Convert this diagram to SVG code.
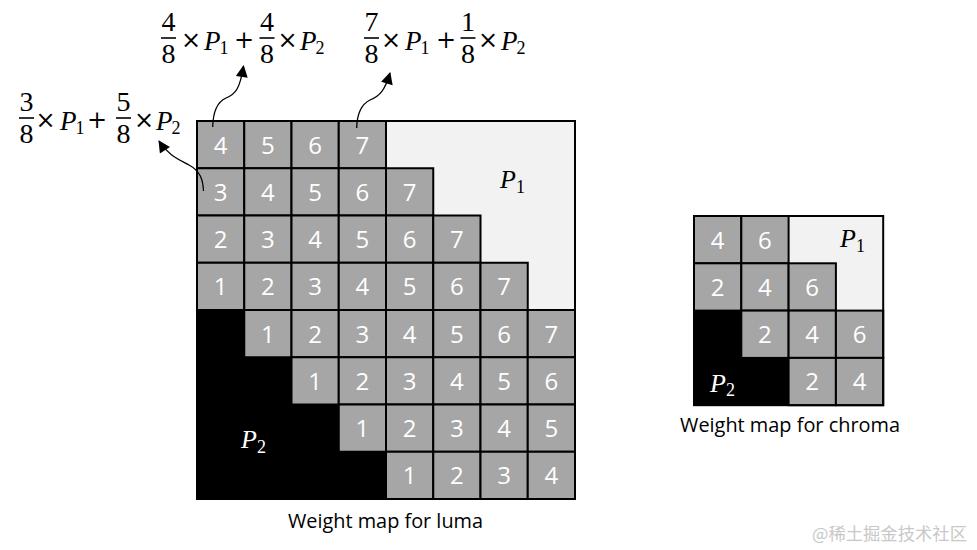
<svg xmlns="http://www.w3.org/2000/svg" width="977" height="550" viewBox="0 0 977 550">
<style>
.bg{fill:#ffffff}
.lt{fill:#f2f2f2}
.bk{fill:#000000}
.c{fill:#a6a6a6;stroke:#000;stroke-width:2}
.frame{fill:none;stroke:#000;stroke-width:2}
.n{font-family:"Open Sans","Noto Sans",sans-serif;font-size:24px;fill:#ffffff;text-anchor:middle}
.mc{font-family:"Liberation Serif","DejaVu Serif",serif;font-size:28px;fill:#000;text-anchor:middle}
.op{font-family:"DejaVu Serif","Liberation Serif",serif;font-size:24px;fill:#000;text-anchor:middle}
.pv{font-family:"Liberation Serif","DejaVu Serif",serif;font-style:italic;font-size:27px;fill:#000}
.gp{font-family:"Liberation Serif","DejaVu Serif",serif;font-style:italic;font-size:26px}
.s{font-style:normal;font-size:18px}
.gs{font-style:normal;font-size:18px}
.bar{stroke:#000;stroke-width:1.6}
.cap{font-family:"Open Sans","Noto Sans",sans-serif;font-size:20px;fill:#000}
.arr{fill:none;stroke:#000;stroke-width:1.3;marker-end:url(#ah)}
</style>
<defs>
<marker id="ah" viewBox="0 0 12 12" refX="11" refY="6" markerWidth="13" markerHeight="12" markerUnits="userSpaceOnUse" orient="auto">
<path d="M0,0 L12,6 L0,12 z" fill="#000"/>
</marker>
</defs>
<rect class="bg" x="0" y="0" width="977" height="550"/>

<!-- Big luma grid -->
<g id="luma-map">
<rect class="lt" x="197" y="121" width="378" height="378"/>
<polygon class="bk" points="197,310 244.25,310 244.25,357.25 291.5,357.25 291.5,404.5 338.75,404.5 338.75,451.75 386,451.75 386,499 197,499"/>
<g id="L-r0">
<g id="L00"><rect class="c" x="197" y="121" width="47.25" height="47.25"/><text class="n" x="220.6" y="153.5">4</text></g>
<g id="L01"><rect class="c" x="244.25" y="121" width="47.25" height="47.25"/><text class="n" x="267.9" y="153.5">5</text></g>
<g id="L02"><rect class="c" x="291.5" y="121" width="47.25" height="47.25"/><text class="n" x="315.1" y="153.5">6</text></g>
<g id="L03"><rect class="c" x="338.75" y="121" width="47.25" height="47.25"/><text class="n" x="362.4" y="153.5">7</text></g>
</g>
<g id="L-r1">
<g id="L10"><rect class="c" x="197" y="168.25" width="47.25" height="47.25"/><text class="n" x="220.6" y="200.75">3</text></g>
<g id="L11"><rect class="c" x="244.25" y="168.25" width="47.25" height="47.25"/><text class="n" x="267.9" y="200.75">4</text></g>
<g id="L12"><rect class="c" x="291.5" y="168.25" width="47.25" height="47.25"/><text class="n" x="315.1" y="200.75">5</text></g>
<g id="L13"><rect class="c" x="338.75" y="168.25" width="47.25" height="47.25"/><text class="n" x="362.4" y="200.75">6</text></g>
<g id="L14"><rect class="c" x="386" y="168.25" width="47.25" height="47.25"/><text class="n" x="409.6" y="200.75">7</text></g>
</g>
<g id="L-r2">
<g id="L20"><rect class="c" x="197" y="215.5" width="47.25" height="47.25"/><text class="n" x="220.6" y="248">2</text></g>
<g id="L21"><rect class="c" x="244.25" y="215.5" width="47.25" height="47.25"/><text class="n" x="267.9" y="248">3</text></g>
<g id="L22"><rect class="c" x="291.5" y="215.5" width="47.25" height="47.25"/><text class="n" x="315.1" y="248">4</text></g>
<g id="L23"><rect class="c" x="338.75" y="215.5" width="47.25" height="47.25"/><text class="n" x="362.4" y="248">5</text></g>
<g id="L24"><rect class="c" x="386" y="215.5" width="47.25" height="47.25"/><text class="n" x="409.6" y="248">6</text></g>
<g id="L25"><rect class="c" x="433.25" y="215.5" width="47.25" height="47.25"/><text class="n" x="456.9" y="248">7</text></g>
</g>
<g id="L-r3">
<g id="L30"><rect class="c" x="197" y="262.75" width="47.25" height="47.25"/><text class="n" x="220.6" y="295.25">1</text></g>
<g id="L31"><rect class="c" x="244.25" y="262.75" width="47.25" height="47.25"/><text class="n" x="267.9" y="295.25">2</text></g>
<g id="L32"><rect class="c" x="291.5" y="262.75" width="47.25" height="47.25"/><text class="n" x="315.1" y="295.25">3</text></g>
<g id="L33"><rect class="c" x="338.75" y="262.75" width="47.25" height="47.25"/><text class="n" x="362.4" y="295.25">4</text></g>
<g id="L34"><rect class="c" x="386" y="262.75" width="47.25" height="47.25"/><text class="n" x="409.6" y="295.25">5</text></g>
<g id="L35"><rect class="c" x="433.25" y="262.75" width="47.25" height="47.25"/><text class="n" x="456.9" y="295.25">6</text></g>
<g id="L36"><rect class="c" x="480.5" y="262.75" width="47.25" height="47.25"/><text class="n" x="504.1" y="295.25">7</text></g>
</g>
<g id="L-r4">
<g id="L41"><rect class="c" x="244.25" y="310" width="47.25" height="47.25"/><text class="n" x="267.9" y="342.5">1</text></g>
<g id="L42"><rect class="c" x="291.5" y="310" width="47.25" height="47.25"/><text class="n" x="315.1" y="342.5">2</text></g>
<g id="L43"><rect class="c" x="338.75" y="310" width="47.25" height="47.25"/><text class="n" x="362.4" y="342.5">3</text></g>
<g id="L44"><rect class="c" x="386" y="310" width="47.25" height="47.25"/><text class="n" x="409.6" y="342.5">4</text></g>
<g id="L45"><rect class="c" x="433.25" y="310" width="47.25" height="47.25"/><text class="n" x="456.9" y="342.5">5</text></g>
<g id="L46"><rect class="c" x="480.5" y="310" width="47.25" height="47.25"/><text class="n" x="504.1" y="342.5">6</text></g>
<g id="L47"><rect class="c" x="527.75" y="310" width="47.25" height="47.25"/><text class="n" x="551.4" y="342.5">7</text></g>
</g>
<g id="L-r5">
<g id="L52"><rect class="c" x="291.5" y="357.25" width="47.25" height="47.25"/><text class="n" x="315.1" y="389.75">1</text></g>
<g id="L53"><rect class="c" x="338.75" y="357.25" width="47.25" height="47.25"/><text class="n" x="362.4" y="389.75">2</text></g>
<g id="L54"><rect class="c" x="386" y="357.25" width="47.25" height="47.25"/><text class="n" x="409.6" y="389.75">3</text></g>
<g id="L55"><rect class="c" x="433.25" y="357.25" width="47.25" height="47.25"/><text class="n" x="456.9" y="389.75">4</text></g>
<g id="L56"><rect class="c" x="480.5" y="357.25" width="47.25" height="47.25"/><text class="n" x="504.1" y="389.75">5</text></g>
<g id="L57"><rect class="c" x="527.75" y="357.25" width="47.25" height="47.25"/><text class="n" x="551.4" y="389.75">6</text></g>
</g>
<g id="L-r6">
<g id="L63"><rect class="c" x="338.75" y="404.5" width="47.25" height="47.25"/><text class="n" x="362.4" y="437">1</text></g>
<g id="L64"><rect class="c" x="386" y="404.5" width="47.25" height="47.25"/><text class="n" x="409.6" y="437">2</text></g>
<g id="L65"><rect class="c" x="433.25" y="404.5" width="47.25" height="47.25"/><text class="n" x="456.9" y="437">3</text></g>
<g id="L66"><rect class="c" x="480.5" y="404.5" width="47.25" height="47.25"/><text class="n" x="504.1" y="437">4</text></g>
<g id="L67"><rect class="c" x="527.75" y="404.5" width="47.25" height="47.25"/><text class="n" x="551.4" y="437">5</text></g>
</g>
<g id="L-r7">
<g id="L74"><rect class="c" x="386" y="451.75" width="47.25" height="47.25"/><text class="n" x="409.6" y="484.25">1</text></g>
<g id="L75"><rect class="c" x="433.25" y="451.75" width="47.25" height="47.25"/><text class="n" x="456.9" y="484.25">2</text></g>
<g id="L76"><rect class="c" x="480.5" y="451.75" width="47.25" height="47.25"/><text class="n" x="504.1" y="484.25">3</text></g>
<g id="L77"><rect class="c" x="527.75" y="451.75" width="47.25" height="47.25"/><text class="n" x="551.4" y="484.25">4</text></g>
</g>
<rect class="frame" x="197" y="121" width="378" height="378"/>
<text id="L-P1" class="gp" x="500" y="188" fill="#000">P<tspan class="gs" dy="5">1</tspan></text>
<text id="L-P2" class="gp" x="241" y="448" fill="#fff">P<tspan class="gs" dy="5">2</tspan></text>
</g>

<!-- Small chroma grid -->
<g id="chroma-map">
<rect class="lt" x="694" y="216" width="189.2" height="189.2"/>
<polygon class="bk" points="694,310.6 741.3,310.6 741.3,357.9 788.6,357.9 788.6,405.2 694,405.2"/>
<g id="C00"><rect class="c" x="694" y="216" width="47.3" height="47.3"/><text class="n" x="717.6" y="248.5">4</text></g>
<g id="C01"><rect class="c" x="741.3" y="216" width="47.3" height="47.3"/><text class="n" x="764.9" y="248.5">6</text></g>
<g id="C10"><rect class="c" x="694" y="263.3" width="47.3" height="47.3"/><text class="n" x="717.6" y="295.8">2</text></g>
<g id="C11"><rect class="c" x="741.3" y="263.3" width="47.3" height="47.3"/><text class="n" x="764.9" y="295.8">4</text></g>
<g id="C12"><rect class="c" x="788.6" y="263.3" width="47.3" height="47.3"/><text class="n" x="812.2" y="295.8">6</text></g>
<g id="C21"><rect class="c" x="741.3" y="310.6" width="47.3" height="47.3"/><text class="n" x="764.9" y="343.1">2</text></g>
<g id="C22"><rect class="c" x="788.6" y="310.6" width="47.3" height="47.3"/><text class="n" x="812.2" y="343.1">4</text></g>
<g id="C23"><rect class="c" x="835.9" y="310.6" width="47.3" height="47.3"/><text class="n" x="859.5" y="343.1">6</text></g>
<g id="C32"><rect class="c" x="788.6" y="357.9" width="47.3" height="47.3"/><text class="n" x="812.2" y="390.4">2</text></g>
<g id="C33"><rect class="c" x="835.9" y="357.9" width="47.3" height="47.3"/><text class="n" x="859.5" y="390.4">4</text></g>
<rect class="frame" x="694" y="216" width="189.2" height="189.2"/>
<text id="C-P1" class="gp" x="840" y="247" fill="#000">P<tspan class="gs" dy="5">1</tspan></text>
<text id="C-P2" class="gp" x="710" y="392" fill="#fff">P<tspan class="gs" dy="4">2</tspan></text>
</g>

<!-- Formulas -->
<g id="formula-left">
<text class="mc" x="26.5" y="111">3</text>
<line class="bar" x1="19" y1="118" x2="34" y2="118"/>
<text class="mc" x="26.5" y="143">8</text>
<text class="op" x="45.5" y="128">×</text>
<text class="pv" x="60" y="130">P<tspan class="s" dx="-1" dy="4">1</tspan></text>
<text class="op" x="97" y="128">+</text>
<text class="mc" x="123.5" y="111">5</text>
<line class="bar" x1="116" y1="118" x2="131" y2="118"/>
<text class="mc" x="123.5" y="143">8</text>
<text class="op" x="144" y="128">×</text>
<text class="pv" x="156" y="130">P<tspan class="s" dx="-1" dy="4">2</tspan></text>
</g>
<g id="formula-mid">
<text class="mc" x="168.5" y="31">4</text>
<line class="bar" x1="161" y1="38" x2="176" y2="38"/>
<text class="mc" x="168.5" y="63">8</text>
<text class="op" x="191" y="48">×</text>
<text class="pv" x="204" y="50">P<tspan class="s" dx="-1" dy="4">1</tspan></text>
<text class="op" x="244" y="48">+</text>
<text class="mc" x="267" y="31">4</text>
<line class="bar" x1="259.5" y1="38" x2="274.5" y2="38"/>
<text class="mc" x="267" y="63">8</text>
<text class="op" x="287.5" y="48">×</text>
<text class="pv" x="300" y="50">P<tspan class="s" dx="-1" dy="4">2</tspan></text>
</g>
<g id="formula-right">
<text class="mc" x="371.5" y="31">7</text>
<line class="bar" x1="364" y1="38" x2="379" y2="38"/>
<text class="mc" x="371.5" y="63">8</text>
<text class="op" x="391" y="48">×</text>
<text class="pv" x="405" y="50">P<tspan class="s" dx="-1" dy="4">1</tspan></text>
<text class="op" x="446" y="48">+</text>
<text class="mc" x="468" y="31">1</text>
<line class="bar" x1="460.5" y1="38" x2="475.5" y2="38"/>
<text class="mc" x="468" y="63">8</text>
<text class="op" x="488" y="48">×</text>
<text class="pv" x="501" y="50">P<tspan class="s" dx="-1" dy="4">2</tspan></text>
</g>

<!-- Connectors -->
<g id="connectors">
<path class="arr" d="M203.5,191 C203,179 200,171 189,165 C178,159 168,155 159,141"/>
<path class="arr" d="M212.7,127 C213,112 217,102 226,98 C236,94 240,88 243.5,66"/>
<path class="arr" d="M356.7,128 C357,114 362,104 370,100 C380,96 385,90 390,73"/>
</g>

<!-- Captions -->
<text class="cap" x="288" y="528" textLength="195" lengthAdjust="spacingAndGlyphs">Weight map for luma</text>
<text class="cap" x="680" y="432" textLength="220" lengthAdjust="spacingAndGlyphs">Weight map for chroma</text>
<text x="812" y="540" font-family="'Noto Sans CJK SC','Noto Sans',sans-serif" font-size="17" fill="#c8c8c8" textLength="155" lengthAdjust="spacingAndGlyphs">@稀土掘金技术社区</text>
</svg>
